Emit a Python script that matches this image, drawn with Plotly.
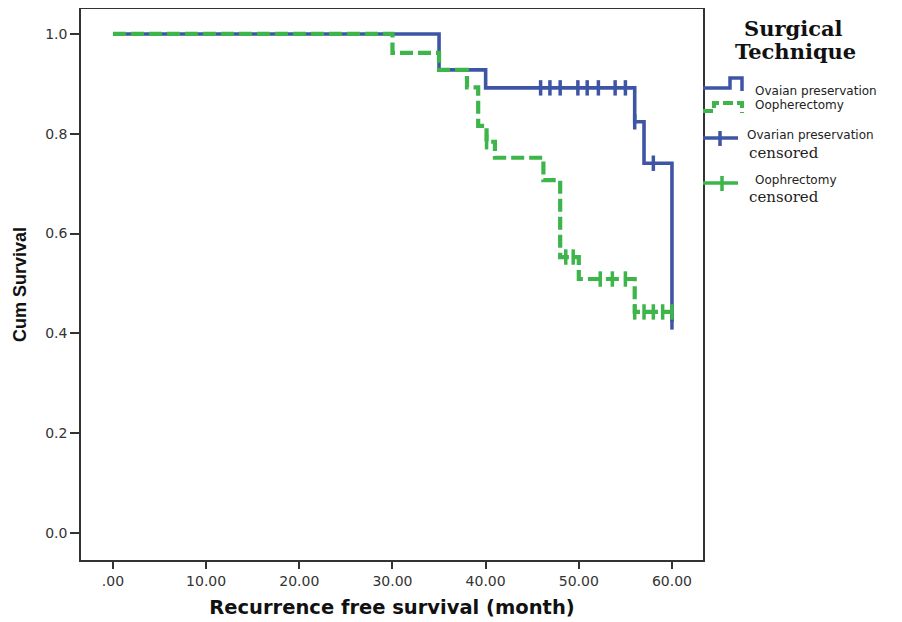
import plotly.graph_objects as go

# ---------------- data ----------------
ovarian_event_t = [0, 35, 40, 56, 57, 60]
ovarian_surv = [1.0, 0.928, 0.892, 0.824, 0.741, 0.423]
ovarian_censor_t = [45.9, 46.9, 48.0, 49.9, 50.9, 52.1, 53.9, 55.0, 56.0, 58.0, 60.0]

ooph_event_t = [0, 30, 35, 38, 39.2, 40.1, 41, 46.2, 48, 50, 56]
ooph_surv = [1.0, 0.962, 0.928, 0.893, 0.816, 0.784, 0.752, 0.707, 0.553, 0.509, 0.443]
ooph_censor_t = [40.1, 48.6, 49.4, 52.3, 53.6, 55.0, 56.0, 57.0, 58.0, 59.0, 60.0]

x_ticks = [0, 10, 20, 30, 40, 50, 60]
x_tick_labels = [".00", "10.00", "20.00", "30.00", "40.00", "50.00", "60.00"]
y_ticks = [0.0, 0.2, 0.4, 0.6, 0.8, 1.0]
y_tick_labels = ["0.0", "0.2", "0.4", "0.6", "0.8", "1.0"]

BLUE = "#3E55A6"
GREEN = "#3DB54A"


def km_level(times, surv, t):
    level = surv[0]
    for ti, si in zip(times, surv):
        if t >= ti - 1e-9:
            level = si
    return level


def step_xy(times, surv, end_t):
    xs = list(times) + [end_t]
    ys = list(surv) + [surv[-1]]
    return xs, ys


fig = go.Figure()

bx, by = step_xy(ovarian_event_t, ovarian_surv, max(ovarian_censor_t))
gx, gy = step_xy(ooph_event_t, ooph_surv, max(ooph_censor_t))

fig.add_trace(go.Scatter(x=bx, y=by, mode="lines", line=dict(color=BLUE, width=3.6, shape="hv"),
                         name="Ovaian preservation", hoverinfo="skip"))
fig.add_trace(go.Scatter(x=ovarian_censor_t,
                         y=[km_level(ovarian_event_t, ovarian_surv, t) for t in ovarian_censor_t],
                         mode="markers",
                         marker=dict(symbol="line-ns", size=11, line=dict(color=BLUE, width=3.5)),
                         name="Ovarian preservation censored"))
fig.add_trace(go.Scatter(x=gx, y=gy, mode="lines",
                         line=dict(color=GREEN, width=4.2, shape="hv", dash="13px,5px"),
                         name="Oopherectomy", hoverinfo="skip"))
fig.add_trace(go.Scatter(x=ooph_censor_t,
                         y=[km_level(ooph_event_t, ooph_surv, t) for t in ooph_censor_t],
                         mode="markers",
                         marker=dict(symbol="line-ns", size=11, line=dict(color=GREEN, width=3.5)),
                         name="Oophrectomy censored"))

# ---------------- layout ----------------
# page pixel geometry of the reference; the page body adds an 8px offset
OFF = 8
L, R, T, B = 81 - OFF, 703 - OFF, 9 - OFF, 560 - OFF
W, H = 902 - OFF, 622 - OFF


def px(x):
    return (x - OFF - L) / (R - L)


def py(y):
    return (B - (y - OFF)) / (B - T)


axis_font = dict(family="DejaVu Sans", size=14, color="#333333")

fig.update_layout(
    width=W, height=H,
    margin=dict(l=L, r=W - R, t=T, b=H - B, autoexpand=False),
    paper_bgcolor="white", plot_bgcolor="white",
    showlegend=False,
    xaxis=dict(range=[-3.43, 63.33], tickvals=x_ticks, ticktext=x_tick_labels,
               ticks="outside", ticklen=7, tickwidth=1.5, tickcolor="#333333",
               showgrid=False, zeroline=False, showline=True, mirror=True,
               linecolor="#333333", linewidth=1.5, tickfont=axis_font,
               title=dict(text="<b>Recurrence free survival (month)</b>",
                          font=dict(family="DejaVu Sans", size=19.5, color="#111111"), standoff=13)),
    yaxis=dict(range=[-0.054, 1.050], tickvals=y_ticks, ticktext=y_tick_labels,
               ticks="outside", ticklen=9, tickwidth=1.5, tickcolor="#333333",
               showgrid=False, zeroline=False, showline=True, mirror=True,
               linecolor="#333333", linewidth=1.5, tickfont=axis_font,
               title=dict(text="<b>Cum Survival</b>",
                          font=dict(family="Liberation Sans", size=18, color="#111111"), standoff=14)),
)

# ---------------- custom legend (paper coordinates) ----------------
def path(points):
    return "M " + " L ".join(f"{px(x):.5f},{py(y):.5f}" for x, y in points)


shapes = []
shapes.append(dict(type="path", xref="paper", yref="paper",
                   path=path([(703, 88), (730, 88), (730, 78), (742, 78), (742, 91)]),
                   line=dict(color=BLUE, width=3.5)))
shapes.append(dict(type="path", xref="paper", yref="paper",
                   path=path([(703, 111), (714, 111), (714, 103), (742, 103), (742, 113)]),
                   line=dict(color=GREEN, width=4, dash="10px,4px")))
# censored icons (plus)
shapes.append(dict(type="line", xref="paper", yref="paper", x0=px(703), x1=px(738), y0=py(138), y1=py(138),
                   line=dict(color=BLUE, width=3.5)))
shapes.append(dict(type="line", xref="paper", yref="paper", x0=px(720), x1=px(720), y0=py(131), y1=py(146),
                   line=dict(color=BLUE, width=3.5)))
shapes.append(dict(type="line", xref="paper", yref="paper", x0=px(703), x1=px(738), y0=py(183), y1=py(183),
                   line=dict(color=GREEN, width=3.5)))
shapes.append(dict(type="line", xref="paper", yref="paper", x0=px(722), x1=px(722), y0=py(176), y1=py(191),
                   line=dict(color=GREEN, width=3.5)))
fig.update_layout(shapes=shapes)

serif_bold = dict(family="DejaVu Serif", size=21, color="#111111")
sans_small = dict(family="DejaVu Sans", size=12, color="#222222")
serif_small = dict(family="DejaVu Serif", size=15, color="#222222")

ann = [
    (793, 29, "<b>Surgical</b>", serif_bold, "center"),
    (795, 52, "<b>Technique</b>", serif_bold, "center"),
    (753, 91, "Ovaian preservation", sans_small, "left"),
    (753, 105, "Oopherectomy", sans_small, "left"),
    (745, 135, "Ovarian preservation", sans_small, "left"),
    (747, 153, "censored", serif_small, "left"),
    (753, 180, "Oophrectomy", sans_small, "left"),
    (747, 197, "censored", serif_small, "left"),
]
for x, y, text, font, anchor in ann:
    fig.add_annotation(x=px(x), y=py(y), xref="paper", yref="paper", text=text, showarrow=False,
                       font=font, xanchor=anchor, yanchor="middle")

fig.write_html("out.html")
